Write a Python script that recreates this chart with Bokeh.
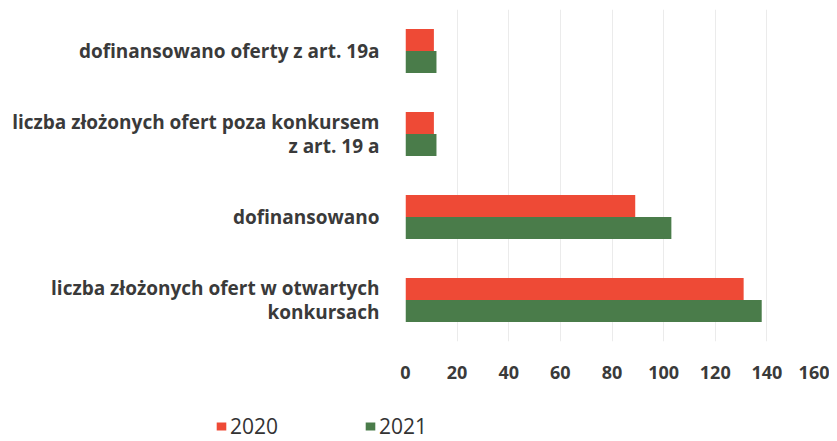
from bokeh.plotting import figure
from bokeh.layouts import column
from bokeh.models import ColumnDataSource, FactorRange, FixedTicker, Legend, LegendItem, Range1d
from bokeh.transform import dodge
from bokeh.embed import file_html
from bokeh.resources import INLINE

categories = [
    "liczba złożonych ofert w otwartych\nkonkursach",
    "dofinansowano",
    "liczba złożonych ofert poza konkursem\nz art. 19 a",
    "dofinansowano oferty z art. 19a",
]
values_2020 = [131, 89, 11, 11]
values_2021 = [138, 103, 12, 12]
series = ["2020", "2021"]
series_colors = ["#EE4A36", "#4A7C4A"]
x_ticks = [0, 20, 40, 60, 80, 100, 120, 140, 160]

src = ColumnDataSource(dict(cat=categories, v2020=values_2020, v2021=values_2021))

FONT = "Open Sans"
TXT = "#3a3a3a"

p = figure(width=829, height=399, y_range=FactorRange(*categories),
           x_range=Range1d(0, 160), output_backend="svg", toolbar_location=None,
           min_border_left=405, min_border_right=11, min_border_top=9, min_border_bottom=58)
p.outline_line_color = None
p.background_fill_color = "white"
p.frame_align = False

r1 = p.hbar(y=dodge("cat", 0.133, range=p.y_range), right="v2020", left=0, height=0.265,
            source=src, color=series_colors[0], line_color=None)
r2 = p.hbar(y=dodge("cat", -0.133, range=p.y_range), right="v2021", left=0, height=0.265,
            source=src, color=series_colors[1], line_color=None)

p.xaxis.ticker = FixedTicker(ticks=x_ticks)
p.xaxis.axis_line_color = None
p.xaxis.major_tick_line_color = None
p.xaxis.minor_tick_line_color = None
p.xaxis.major_label_standoff = 18
p.xaxis.major_label_text_font = FONT
p.xaxis.major_label_text_font_size = "18px"
p.xaxis.major_label_text_font_style = "bold"
p.xaxis.major_label_text_color = TXT

p.yaxis.axis_line_color = None
p.yaxis.major_tick_line_color = None
p.yaxis.minor_tick_line_color = None
p.yaxis.major_label_standoff = 20
p.yaxis.major_label_text_font = FONT
p.yaxis.major_label_text_font_size = "19px"
p.yaxis.major_label_text_font_style = "bold"
p.yaxis.major_label_text_color = TXT
p.yaxis.major_label_text_line_height = 0.95

p.xgrid.grid_line_color = "#ebebeb"
p.ygrid.grid_line_color = None

# separate strip holding the legend (below the chart, left-shifted as in the reference)
lg = figure(width=829, height=41, x_range=Range1d(0, 1), y_range=Range1d(0, 1),
            output_backend="svg", toolbar_location=None,
            x_axis_location=None, y_axis_location=None,
            min_border=0, min_border_left=0, min_border_right=0,
            min_border_top=0, min_border_bottom=0)
lg.frame_align = False
lg.outline_line_color = None
lg.border_fill_color = "white"
lg.background_fill_color = "white"
lg.xgrid.grid_line_color = None
lg.ygrid.grid_line_color = None
# key swatches: zero-size marks outside the strip's range, only their legend glyphs show
k1 = lg.hbar(y=[5], right=[0], left=0, height=0.0, color=series_colors[0], line_color=None)
k2 = lg.hbar(y=[5], right=[0], left=0, height=0.0, color=series_colors[1], line_color=None)

legend = Legend(items=[LegendItem(label=series[0], renderers=[k1]),
                       LegendItem(label=series[1], renderers=[k2])],
                orientation="horizontal", location=(215, 0),
                label_text_font=FONT, label_text_font_size="21px", label_text_color="#333333",
                glyph_width=12, glyph_height=10, label_standoff=3, spacing=86,
                border_line_color=None, background_fill_alpha=0, padding=0,
                margin=0, label_height=24)
lg.add_layout(legend, "center")

layout = column(p, lg, spacing=0)
open("out.html", "w").write(file_html(layout, INLINE))
